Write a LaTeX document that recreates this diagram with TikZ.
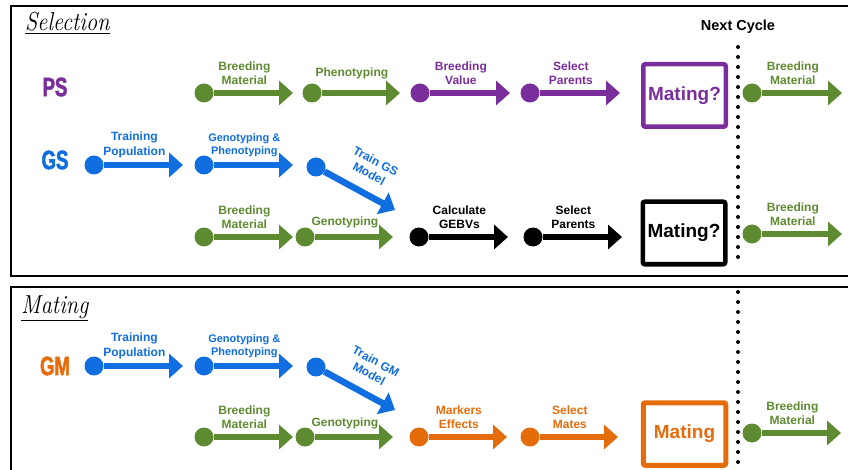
\documentclass[tikz,border=0pt]{standalone}
\usepackage{fontspec}
\setsansfont{Liberation Sans}
\newfontfamily\tagfont{Liberation Sans Bold}[FakeStretch=0.7,FakeBold=2]
\usepackage{tikz}
\usetikzlibrary{arrows.meta}
\usepackage{xcolor}
\definecolor{ColGreen}{RGB}{94,138,49}
\definecolor{ColPurple}{RGB}{122,46,156}
\definecolor{ColBlue}{RGB}{16,110,224}
\definecolor{ColOrange}{RGB}{228,108,10}
\tikzstyle{PanelFrame}=[draw=black,line width=2pt]
\tikzstyle{PanelTitle}=[anchor=base west,inner sep=0pt,font=\fontsize{26}{30}\selectfont\itshape]
\tikzstyle{MethodTag}=[inner sep=0pt,font=\tagfont\fontsize{26.5}{30}\selectfont]
\tikzstyle{FlowDot}=[circle,inner sep=0pt,minimum size=19pt]
\tikzstyle{FlowArrow}=[line width=6.5pt,-{Triangle[length=14pt,width=24pt]}]
\tikzstyle{FlowLabel}=[align=center,inner sep=0pt,xshift=-9pt,yshift=20pt,
font=\sffamily\bfseries\fontsize{12}{14.5}\selectfont]
\tikzstyle{SmallLabel}=[font=\sffamily\bfseries\fontsize{11}{13.5}\selectfont]
\tikzstyle{SlopeLabel}=[align=center,inner sep=0pt,sloped,above=12pt,pos=.5,
font=\sffamily\bfseries\fontsize{12}{14}\selectfont]
\tikzstyle{MateBox}=[draw,line width=4.5pt,rounded corners=2pt,minimum width=82.5pt,
minimum height=62.5pt,inner sep=0pt,font=\sffamily\bfseries\fontsize{19}{22}\selectfont]
\tikzstyle{CycleDots}=[line width=4pt,line cap=round,dash pattern=on 0pt off 10pt]
\begin{document}
\begin{tikzpicture}[x=1pt,y=-1pt]
        \useasboundingbox(0,0)rectangle(848,470);
        \draw[PanelFrame](11,6)rectangle(860,276);
        \draw[PanelFrame](11,287)rectangle(860,480);
        \node[PanelTitle](selT)at(25,31){\scalebox{0.86}[1]{\underline{Selection}}};
        \node[PanelTitle](matT)at(21,313){\scalebox{0.86}[1]{\underline{Mating}}};
        \node[MethodTag,ColPurple](ps)at(55,87){PS};
        \node[MethodTag,ColBlue](gs)at(55,160){GS};
        \node[MethodTag,ColOrange](gm)at(55,366){GM};
        \node[font=\sffamily\bfseries\fontsize{14.5}{17}\selectfont](nc)at(738,27){Next Cycle};
        \coordinate(dotA)at(738,47);
        \coordinate(dotB)at(738,267);
        \coordinate(dotC)at(738,292);
        \coordinate(dotD)at(738,472);
        \draw[CycleDots](dotA)--(dotB);
        \draw[CycleDots](dotC)--(dotD);
        % PS row
        \node[FlowDot,fill=ColGreen](bmA)at(204,93){};
        \coordinate(bmAt)at(293,93);
        \draw[FlowArrow,ColGreen](bmA)--node[FlowLabel]{Breeding\\Material}(bmAt);
        \node[FlowDot,fill=ColGreen](phA)at(312,93){};
        \coordinate(phAt)at(400,93);
        \draw[FlowArrow,ColGreen](phA)--node[FlowLabel]{Phenotyping}(phAt);
        \node[FlowDot,fill=ColPurple](bvA)at(420,93){};
        \coordinate(bvAt)at(510,93);
        \draw[FlowArrow,ColPurple](bvA)--node[FlowLabel]{Breeding\\Value}(bvAt);
        \node[FlowDot,fill=ColPurple](spA)at(530,93){};
        \coordinate(spAt)at(620,93);
        \draw[FlowArrow,ColPurple](spA)--node[FlowLabel]{Select\\Parents}(spAt);
        \node[MateBox,ColPurple](mateA)at(684.5,95.5){Mating?};
        \node[FlowDot,fill=ColGreen](nbA)at(752,93){};
        \coordinate(nbAt)at(842,93);
        \draw[FlowArrow,ColGreen](nbA)--node[FlowLabel]{Breeding\\Material}(nbAt);
        % GS rows
        \node[FlowDot,fill=ColBlue](tpB)at(94,165){};
        \coordinate(tpBt)at(183,165);
        \draw[FlowArrow,ColBlue](tpB)--node[FlowLabel]{Training\\Population}(tpBt);
        \node[FlowDot,fill=ColBlue](gpB)at(204,165){};
        \coordinate(gpBt)at(293,165);
        \draw[FlowArrow,ColBlue](gpB)--node[FlowLabel,SmallLabel]{Genotyping \&\\Phenotyping}(gpBt);
        \node[FlowDot,fill=ColBlue](tmB)at(316,167){};
        \coordinate(tmBt)at(395,210);
        \draw[FlowArrow,ColBlue](tmB)--node[SlopeLabel]{Train GS\\Model}(tmBt);
        \node[FlowDot,fill=ColGreen](bmB)at(204,237){};
        \coordinate(bmBt)at(293,237);
        \draw[FlowArrow,ColGreen](bmB)--node[FlowLabel]{Breeding\\Material}(bmBt);
        \node[FlowDot,fill=ColGreen](gtB)at(305,237){};
        \coordinate(gtBt)at(393,237);
        \draw[FlowArrow,ColGreen](gtB)--node[FlowLabel,yshift=-5pt]{Genotyping}(gtBt);
        \node[FlowDot,fill=black](cgB)at(419,237){};
        \coordinate(cgBt)at(508,237);
        \draw[FlowArrow,black](cgB)--node[FlowLabel]{Calculate\\GEBVs}(cgBt);
        \node[FlowDot,fill=black](spB)at(533,237){};
        \coordinate(spBt)at(622,237);
        \draw[FlowArrow,black](spB)--node[FlowLabel]{Select\\Parents}(spBt);
        \node[MateBox,black](mateB)at(684,233){Mating?};
        \node[FlowDot,fill=ColGreen](nbB)at(752,234){};
        \coordinate(nbBt)at(842,234);
        \draw[FlowArrow,ColGreen](nbB)--node[FlowLabel]{Breeding\\Material}(nbBt);
        % GM rows
        \node[FlowDot,fill=ColBlue](tpC)at(94,366){};
        \coordinate(tpCt)at(183,366);
        \draw[FlowArrow,ColBlue](tpC)--node[FlowLabel]{Training\\Population}(tpCt);
        \node[FlowDot,fill=ColBlue](gpC)at(204,366){};
        \coordinate(gpCt)at(293,366);
        \draw[FlowArrow,ColBlue](gpC)--node[FlowLabel,SmallLabel]{Genotyping \&\\Phenotyping}(gpCt);
        \node[FlowDot,fill=ColBlue](tmC)at(316,367){};
        \coordinate(tmCt)at(395,410);
        \draw[FlowArrow,ColBlue](tmC)--node[SlopeLabel]{Train GM\\Model}(tmCt);
        \node[FlowDot,fill=ColGreen](bmC)at(204,437){};
        \coordinate(bmCt)at(293,437);
        \draw[FlowArrow,ColGreen](bmC)--node[FlowLabel]{Breeding\\Material}(bmCt);
        \node[FlowDot,fill=ColGreen](gtC)at(305,437){};
        \coordinate(gtCt)at(393,437);
        \draw[FlowArrow,ColGreen](gtC)--node[FlowLabel,yshift=-6pt]{Genotyping}(gtCt);
        \node[FlowDot,fill=ColOrange](meC)at(419,437){};
        \coordinate(meCt)at(507,437);
        \draw[FlowArrow,ColOrange](meC)--node[FlowLabel]{Markers\\Effects}(meCt);
        \node[FlowDot,fill=ColOrange](smC)at(530,437){};
        \coordinate(smCt)at(618,437);
        \draw[FlowArrow,ColOrange](smC)--node[FlowLabel]{Select\\Mates}(smCt);
        \node[MateBox,ColOrange,line width=5pt](mateC)at(684.5,434){Mating};
        \node[FlowDot,fill=ColGreen](nbC)at(752,433){};
        \coordinate(nbCt)at(841,433);
        \draw[FlowArrow,ColGreen](nbC)--node[FlowLabel]{Breeding\\Material}(nbCt);
    \end{tikzpicture}
\end{document}
